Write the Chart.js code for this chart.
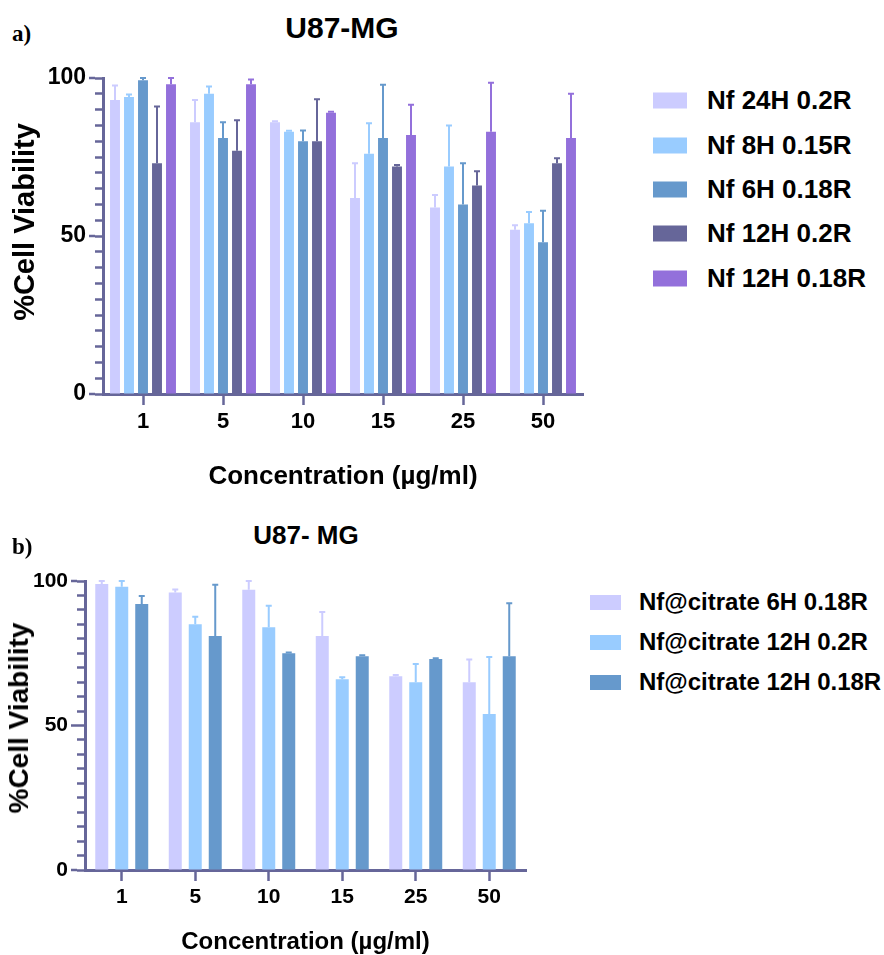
<!DOCTYPE html>
<html lang="en">
<head>
  <meta charset="UTF-8" />
  <title>U87-MG cell viability</title>
  <script src="https://cdn.jsdelivr.net/npm/chart.js"></script>
  <style>
    body { margin: 0; background: #fff; font-family: "Liberation Sans", Arial, sans-serif; }
    #page { position: relative; width: 884px; height: 955px; overflow: hidden; }
    canvas { position: absolute; left: 0; }
    .tag { position: absolute; left: 12px; font-family: "Liberation Serif", "Times New Roman", serif; font-weight: bold; font-size: 23px; line-height: 1; }
    .title { position: absolute; font-weight: bold; line-height: 1; transform: translate(-50%, -50%); white-space: nowrap; }
    .ytitle { position: absolute; font-weight: bold; line-height: 1; transform: translate(-50%, -50%) rotate(-90deg); white-space: nowrap; }
    .legend { position: absolute; font-weight: bold; }
    .legend .row { position: absolute; left: 0; display: flex; align-items: center; white-space: nowrap; transform: translateY(-50%); }
    .legend .box { display: inline-block; }
  </style>
</head>
<body>
<div id="page">
  <div class="tag" style="top:22px">a)</div>
  <div class="title" style="left:342px; top:28px; font-size:30px">U87-MG</div>
  <canvas id="chartA" width="620" height="500" style="top:0"></canvas>
  <div class="ytitle" style="left:24px; top:222px; font-size:29px">%Cell Viability</div>
  <div class="legend" id="legendA" style="left:653px; top:0"></div>

  <div class="tag" style="top:535px">b)</div>
  <div class="title" style="left:306px; top:535px; font-size:26px">U87- MG</div>
  <canvas id="chartB" width="560" height="465" style="top:490px"></canvas>
  <div class="ytitle" style="left:19px; top:718px; font-size:28px">%Cell Viability</div>
  <div class="legend" id="legendB" style="left:590px; top:0"></div>
</div>

<script>
  // ---------- data ----------
  const concentrations = ['1', '5', '10', '15', '25', '50'];

  // a) U87-MG
  const labelsA = ['Nf 24H 0.2R', 'Nf 8H 0.15R', 'Nf 6H 0.18R', 'Nf 12H 0.2R', 'Nf 12H 0.18R'];
  const colorsA = ['#CCCCFF', '#99CCFF', '#6699CC', '#666699', '#9370DB'];
  const nf24h02 = [93, 86, 86, 62, 59, 52];
  const nf8h015 = [94, 95, 83, 76, 72, 54];
  const nf6h018 = [99.3, 81, 80, 81, 60, 48];
  const nf12h02 = [73, 77, 80, 72, 66, 73];
  const nf12h018 = [98, 98, 89, 82, 83, 81];
  const nf24h02Err = [4.6, 7, 0.3, 11, 4, 1.4];
  const nf8h015Err = [0.8, 2.3, 0.3, 9.7, 13, 3.6];
  const nf6h018Err = [0.7, 5, 3.4, 16.9, 13, 10];
  const nf12h02Err = [18, 9.6, 13.3, 0.5, 4.5, 1.6];
  const nf12h018Err = [2, 1.5, 0.3, 9.5, 15.5, 14];

  // b) U87- MG
  const labelsB = ['Nf@citrate 6H 0.18R', 'Nf@citrate 12H 0.2R', 'Nf@citrate 12H 0.18R'];
  const colorsB = ['#CCCCFF', '#99CCFF', '#6699CC'];
  const cit6h018 = [99, 96, 97, 81, 67, 65];
  const cit12h02 = [98, 85, 84, 66, 65, 54];
  const cit12h018 = [92, 81, 75, 74, 73, 74];
  const cit6h018Err = [1, 1.1, 3, 8.3, 0.5, 7.8];
  const cit12h02Err = [2, 2.6, 7.4, 0.7, 6.3, 19.7];
  const cit12h018Err = [2.8, 17.7, 0.3, 0.3, 0.3, 18.3];

  const axisColor = '#666699';
  Chart.defaults.font.family = '"Liberation Sans", Arial, sans-serif';
  Chart.defaults.color = '#000';

  // upward error bars (mean + SD)
  const errorBars = {
    id: 'errorBars',
    afterDatasetsDraw(chart) {
      const ctx = chart.ctx;
      const y = chart.scales.y;
      chart.data.datasets.forEach((ds, i) => {
        chart.getDatasetMeta(i).data.forEach((bar, j) => {
          const top = y.getPixelForValue(ds.data[j] + ds.errors[j]);
          ctx.save();
          ctx.strokeStyle = ds.backgroundColor;
          ctx.lineWidth = 2;
          ctx.beginPath();
          ctx.moveTo(bar.x, bar.y);
          ctx.lineTo(bar.x, top);
          ctx.moveTo(bar.x - 3, top);
          ctx.lineTo(bar.x + 3, top);
          ctx.stroke();
          ctx.restore();
        });
      });
    }
  };

  // longer tick marks at the labelled values
  const majorTicks = {
    id: 'majorTicks',
    afterDraw(chart) {
      const ctx = chart.ctx;
      const y = chart.scales.y;
      const x0 = chart.chartArea.left;
      [0, 50, 100].forEach(v => {
        const py = y.getPixelForValue(v);
        ctx.save();
        ctx.strokeStyle = axisColor;
        ctx.lineWidth = 2.5;
        ctx.beginPath();
        ctx.moveTo(x0 - 14, py);
        ctx.lineTo(x0 - 8, py);
        ctx.stroke();
        ctx.restore();
      });
    }
  };

  function makeChart(id, labels, colors, values, errors, s) {
    return new Chart(document.getElementById(id), {
      type: 'bar',
      data: {
        labels: concentrations,
        datasets: labels.map((name, i) => ({
          label: name,
          data: values[i],
          errors: errors[i],
          backgroundColor: colors[i],
          categoryPercentage: s.catPct,
          barPercentage: s.barPct
        }))
      },
      options: {
        responsive: false,
        animation: false,
        layout: { padding: { top: s.top, right: s.right, left: 0, bottom: 0 } },
        plugins: { legend: { display: false }, tooltip: { enabled: false } },
        scales: {
          x: {
            afterFit: scale => { scale.height = s.xHeight; },
            grid: { offset: false, drawOnChartArea: false, tickLength: 11, tickWidth: 2.5, tickColor: axisColor },
            border: { color: axisColor, width: 3 },
            ticks: { font: { size: s.tickSize, weight: 'bold' }, padding: 4, color: '#000' },
            title: {
              display: true, text: 'Concentration (µg/ml)', color: '#000',
              font: { size: s.xTitleSize, weight: 'bold' }, padding: { top: 0, bottom: s.xTitlePad }
            }
          },
          y: {
            min: 0, max: 100,
            afterFit: scale => { scale.width = s.left; },
            grid: { drawOnChartArea: false, tickLength: 8, tickWidth: 2.5, tickColor: axisColor },
            border: { color: axisColor, width: 3 },
            ticks: {
              stepSize: 5, autoSkip: false, padding: 9, color: '#000',
              font: { size: s.yTickSize, weight: 'bold' },
              callback: v => (v % 50 === 0 ? v : '')
            }
          }
        }
      },
      plugins: [errorBars, majorTicks]
    });
  }

  makeChart('chartA', labelsA, colorsA,
    [nf24h02, nf8h015, nf6h018, nf12h02, nf12h018],
    [nf24h02Err, nf8h015Err, nf6h018Err, nf12h02Err, nf12h018Err],
    { top: 78, right: 37, left: 103, xHeight: 106, catPct: 0.875, barPct: 0.71,
      tickSize: 22, yTickSize: 23, xTitleSize: 26, xTitlePad: 8 });

  makeChart('chartB', labelsB, colorsB,
    [cit6h018, cit12h02, cit12h018],
    [cit6h018Err, cit12h02Err, cit12h018Err],
    { top: 91, right: 34, left: 85, xHeight: 85, catPct: 0.816, barPct: 0.65,
      tickSize: 21, yTickSize: 21, xTitleSize: 24, xTitlePad: -2 });

  // ---------- legends ----------
  function buildLegend(id, labels, colors, rowY, boxW, boxH, gap, size) {
    const el = document.getElementById(id);
    labels.forEach((name, i) => {
      const row = document.createElement('div');
      row.className = 'row';
      row.style.top = rowY[i] + 'px';
      row.style.fontSize = size + 'px';
      row.innerHTML = `<span class="box" style="width:${boxW}px;height:${boxH}px;background:${colors[i]};margin-right:${gap}px"></span>${name}`;
      el.appendChild(row);
    });
  }
  buildLegend('legendA', labelsA, colorsA, [100, 145, 189, 233, 278], 34, 16, 20, 26);
  buildLegend('legendB', labelsB, colorsB, [602, 642, 682], 31, 15, 18, 24);
</script>
</body>
</html>
